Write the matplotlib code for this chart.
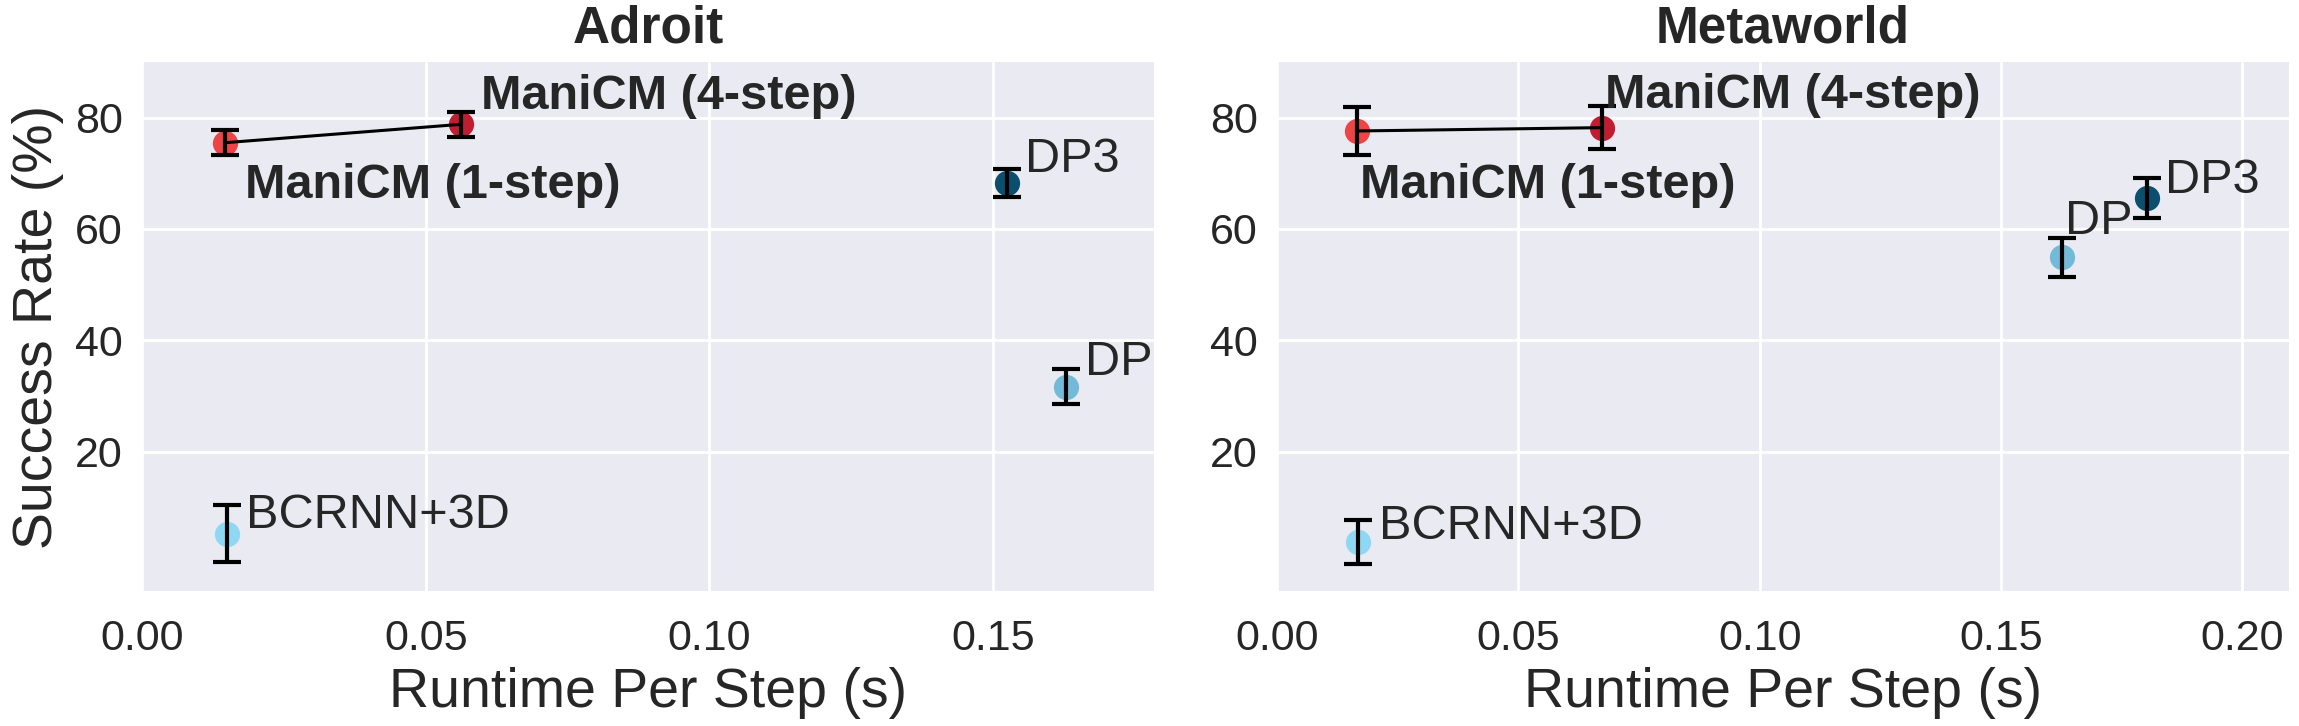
import matplotlib
matplotlib.use("Agg")
import matplotlib.pyplot as plt
import seaborn as sns

sns.set_theme(style="darkgrid")
plt.rcParams['font.family'] = ['Liberation Sans', 'DejaVu Sans']

# ---- data ----
methods = ["ManiCM (1-step)", "ManiCM (4-step)", "DP3", "DP", "BCRNN+3D"]
colors = ["#EE4446", "#C11D31", "#0B4E6E", "#72BAD8", "#8ED8F4"]
bold = [True, True, False, False, False]

adroit_runtime = [0.0147, 0.0563, 0.1524, 0.1628, 0.0149]
adroit_success = [75.5, 78.8, 68.3, 31.7, 5.3]
adroit_err = [2.2, 2.2, 2.5, 3.1, 5.1]

meta_runtime = [0.0166, 0.0673, 0.1803, 0.1626, 0.0167]
meta_success = [77.6, 78.2, 65.5, 54.9, 3.8]
meta_err = [4.3, 3.9, 3.6, 3.5, 4.0]

titles = ["Adroit", "Metaworld"]
xlims = [(0, 0.1784), (0, 0.2097)]
xticks = [[0.00, 0.05, 0.10, 0.15], [0.00, 0.05, 0.10, 0.15, 0.20]]
yticks = [20, 40, 60, 80]

# label offsets in points (dx, dy) per panel
offsets = [
    [(14, -40), (14, 11), (13, 8), (14, 8), (14, 4)],
    [(2, -48), (2, 14), (13, 4), (2, 17), (15, 2)],
]

fig = plt.figure(figsize=(22.99, 7.26), dpi=100)
ax1 = fig.add_axes([0.0618, 0.186, 0.4402, 0.7287])
ax2 = fig.add_axes([0.5555, 0.186, 0.4402, 0.7287])
axes = [ax1, ax2]
datasets = [(adroit_runtime, adroit_success, adroit_err),
            (meta_runtime, meta_success, meta_err)]

for k, (ax, (xs, ys, es)) in enumerate(zip(axes, datasets)):
    ax.grid(True, color='white', linewidth=2)
    for i in range(len(methods)):
        ax.scatter(xs[i], ys[i], s=330, color=colors[i], zorder=3, linewidths=0)
        ax.errorbar(xs[i], ys[i], yerr=es[i], fmt='none', ecolor='black',
                    elinewidth=3, capsize=10, capthick=3, zorder=4)
    ax.plot(xs[:2], ys[:2], color='black', linewidth=2.2, zorder=5)
    for i, m in enumerate(methods):
        dx, dy = offsets[k][i]
        ax.annotate(m, (xs[i], ys[i]), xytext=(dx, dy), textcoords='offset points',
                    ha='left', va='baseline', fontsize=35, color='#262626',
                    fontweight='bold' if bold[i] else 'normal', zorder=6)
    ax.set_xlim(*xlims[k])
    ax.set_ylim(-5, 90)
    ax.set_xticks(xticks[k])
    ax.set_xticklabels([f"{t:.2f}" for t in xticks[k]])
    ax.set_yticks(yticks)
    ax.tick_params(labelsize=31, colors='#262626')
    ax.tick_params(axis='x', pad=14)
    ax.tick_params(axis='y', pad=8)
    ax.set_title(titles[k], fontsize=37, fontweight='bold', pad=14, color='#262626')
    ax.set_xlabel("Runtime Per Step (s)", fontsize=40, color='#262626', labelpad=6)
    for sp in ax.spines.values():
        sp.set_visible(False)

ax1.set_ylabel("Success Rate (%)", fontsize=40, color='#262626', labelpad=8)

fig.savefig("out.png", dpi=100)
